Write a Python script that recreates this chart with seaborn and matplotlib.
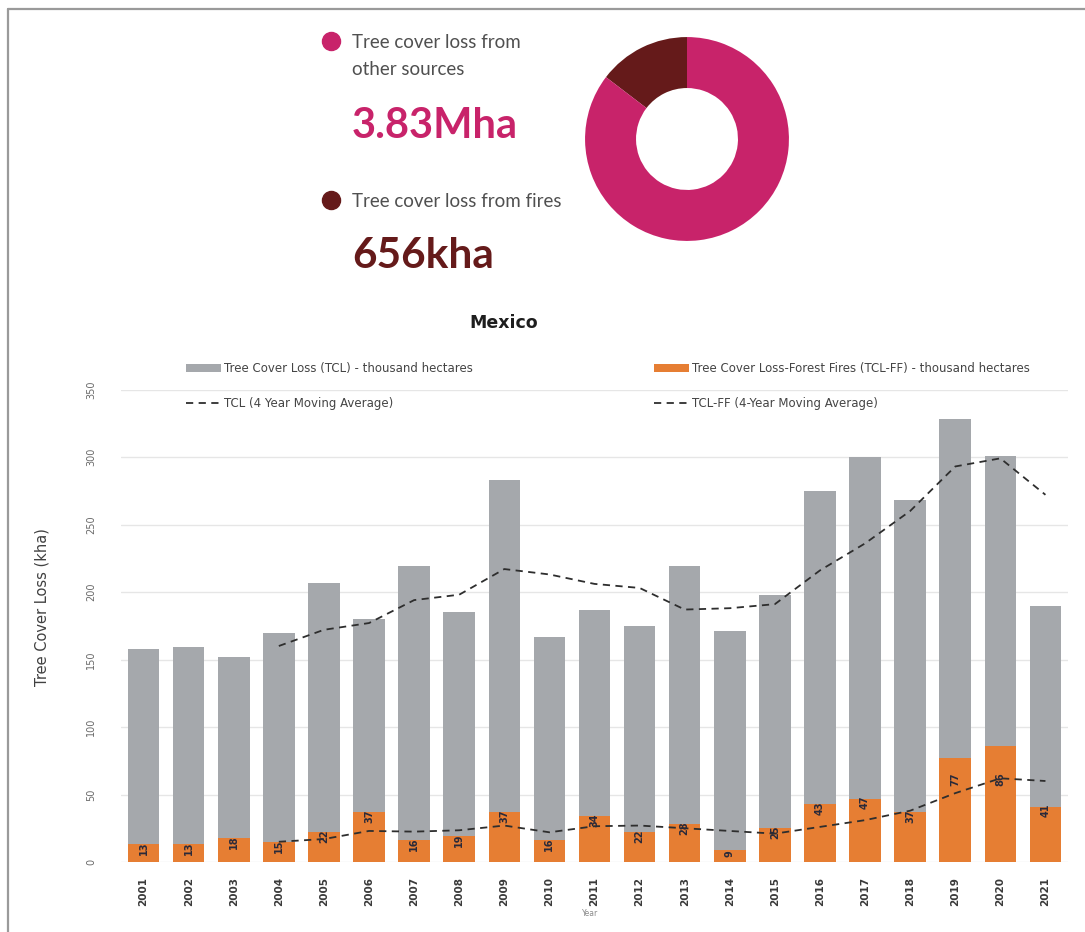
import numpy as np
import pandas as pd
import matplotlib
matplotlib.use("Agg")
import matplotlib.pyplot as plt
import seaborn as sns
from matplotlib.patches import Patch
from matplotlib.lines import Line2D

# ---- data (thousand hectares) ----
years = [2001, 2002, 2003, 2004, 2005, 2006, 2007, 2008, 2009, 2010, 2011,
         2012, 2013, 2014, 2015, 2016, 2017, 2018, 2019, 2020, 2021]
tcl = [158, 159, 152, 170, 207, 180, 219, 185, 283, 167, 187,
       175, 219, 171, 198, 275, 300, 268, 328, 301, 190]
tcl_fires = [13, 13, 18, 15, 22, 37, 16, 19, 37, 16, 34,
             22, 28, 9, 25, 43, 47, 37, 77, 86, 41]

ma_years = [2004, 2005, 2006, 2007, 2008, 2009, 2010, 2011, 2012,
            2013, 2014, 2015, 2016, 2017, 2018, 2019, 2020, 2021]
tcl_ma = [160, 172, 177, 194, 198, 217, 213, 206, 203,
          187, 188, 191, 216, 236, 260, 293, 299, 272]
fires_ma = [15, 17, 23, 22.5, 23.5, 27, 22, 26.5, 27,
            25, 23, 21, 26, 31, 38, 51, 62, 60]

donut_labels = ["Tree cover loss from fires", "Tree cover loss from other sources"]
donut_values = [656, 3830]          # kha
donut_texts = ["656kha", "3.83Mha"]

y_ticks = [0, 50, 100, 150, 200, 250, 300, 350]

# ---- style ----
GRAY = "#A5A8AC"
ORANGE = "#E67E33"
PINK = "#C8236A"
MAROON = "#651A1A"
LINE = "#2E2E2E"

sns.set_theme(style="white")
plt.rcParams["font.family"] = ["DejaVu Sans"]

W, H = 1085, 932
fig = plt.figure(figsize=(W / 100, H / 100), dpi=100)

# outer card frame
fig.add_artist(Line2D([8 / W, 8 / W], [0, 1 - 9 / H], color="#9A9A9A", lw=1.6))
fig.add_artist(Line2D([8 / W, 1], [1 - 9 / H, 1 - 9 / H], color="#9A9A9A", lw=1.6))

# ---- donut summary ----
pax = fig.add_axes([(687 - 105) / W, (H - 139 - 105) / H, 210 / W, 210 / H])
pax.pie(donut_values, colors=[MAROON, PINK], startangle=90, counterclock=True,
        wedgeprops=dict(width=0.5, edgecolor="none"))
pax.set_xlim(-1.03, 1.03)
pax.set_ylim(-1.03, 1.03)
pax.set_aspect("equal")
pax.axis("off")

tfont = "Lato"
fig.add_artist(Line2D([331 / W], [1 - 41 / H], marker="o", markersize=13,
                      color=PINK, lw=0))
fig.add_artist(Line2D([331 / W], [1 - 200 / H], marker="o", markersize=13,
                      color=MAROON, lw=0))
fig.text(352 / W, 1 - 48 / H, "Tree cover loss from", fontsize=13.5,
         family=tfont, color="#505050", va="baseline")
fig.text(352 / W, 1 - 75 / H, "other sources", fontsize=13.5,
         family=tfont, color="#505050", va="baseline")
fig.text(352 / W, 1 - 138 / H, donut_texts[1], fontsize=30, weight="bold",
         family=tfont, color=PINK, va="baseline")
fig.text(352 / W, 1 - 207 / H, donut_labels[0], fontsize=13.5,
         family=tfont, color="#505050", va="baseline")
fig.text(352 / W, 1 - 268 / H, donut_texts[0], fontsize=30.5, weight="bold",
         family=tfont, color=MAROON, va="baseline")

# ---- bar chart ----
ax = fig.add_axes([121 / W, 70 / H, 947 / W, 472.5 / H])
df = pd.DataFrame({"Year": years, "TCL": tcl, "Fires": tcl_fires})
sns.barplot(data=df, x="Year", y="TCL", native_scale=True, color=GRAY,
            saturation=1, width=0.7, ax=ax, zorder=2, linewidth=0,
            edgecolor="none")
sns.barplot(data=df, x="Year", y="Fires", native_scale=True, color=ORANGE,
            saturation=1, width=0.7, ax=ax, zorder=3, linewidth=0,
            edgecolor="none")

ma = pd.DataFrame({"Year": ma_years, "TCL": tcl_ma, "Fires": fires_ma})
dash = (0, (4, 3))
sns.lineplot(data=ma, x="Year", y="TCL", color=LINE, lw=1.3, linestyle=dash,
             ax=ax, zorder=4)
sns.lineplot(data=ma, x="Year", y="Fires", color=LINE, lw=1.3, linestyle=dash,
             ax=ax, zorder=4)

for yr, v in zip(years, tcl_fires):
    ax.text(yr, min(v, 64) - 3, f"{v}", rotation=90, ha="center", va="center",
            fontsize=7, weight="bold", color="#2A2A3A", zorder=5)

ax.set_xlim(2000.5, 2021.5)
ax.set_ylim(0, 350)
ax.set_yticks(y_ticks)
ax.set_yticklabels([str(t) for t in y_ticks], rotation=90, va="center",
                   fontsize=7, color="#6A6A6A")
ax.set_xticks(years)
ax.set_xticklabels([str(y) for y in years], rotation=90, fontsize=7.5,
                   weight="bold", color="#3A3A3A")
ax.tick_params(axis="y", length=0, pad=18)
ax.tick_params(axis="x", length=0, pad=11)
ax.set_xlabel("")
ax.set_ylabel("")
ax.yaxis.grid(True, color="#E6E6E6", lw=1)
ax.set_axisbelow(True)
for s in ax.spines.values():
    s.set_visible(False)

fig.text(42 / W, 1 - 607 / H, "Tree Cover Loss (kha)", rotation=90,
         ha="center", va="center", fontsize=10.5, color="#404040")
fig.text(590 / W, 1 - 913 / H, "Year", ha="center", va="center",
         fontsize=5.5, color="#8A8A8A")
fig.text(504 / W, 1 - 323 / H, "Mexico", ha="center", va="center",
         fontsize=12.5, weight="bold", color="#1E1E1E")

# ---- legends ----
h_tcl = Patch(facecolor=GRAY, edgecolor="none")
h_ff = Patch(facecolor=ORANGE, edgecolor="none")
h_ma = Line2D([], [], color=LINE, lw=1.3, linestyle=dash)
leg_kw = dict(frameon=False, fontsize=8.5, loc="upper left", borderpad=0,
              handlelength=3.0, handletextpad=0.25, labelspacing=1.85,
              labelcolor="#444444")
leg1 = fig.legend([h_tcl, h_ma],
                  ["Tree Cover Loss (TCL) - thousand hectares",
                   "TCL (4 Year Moving Average)"],
                  bbox_to_anchor=(180 / W, 1 - 356 / H), **leg_kw)
leg2 = fig.legend([h_ff, h_ma],
                  ["Tree Cover Loss-Forest Fires (TCL-FF) - thousand hectares",
                   "TCL-FF (4-Year Moving Average)"],
                  bbox_to_anchor=(648 / W, 1 - 356 / H), **leg_kw)

fig.savefig("out.png", dpi=100, facecolor="white")
